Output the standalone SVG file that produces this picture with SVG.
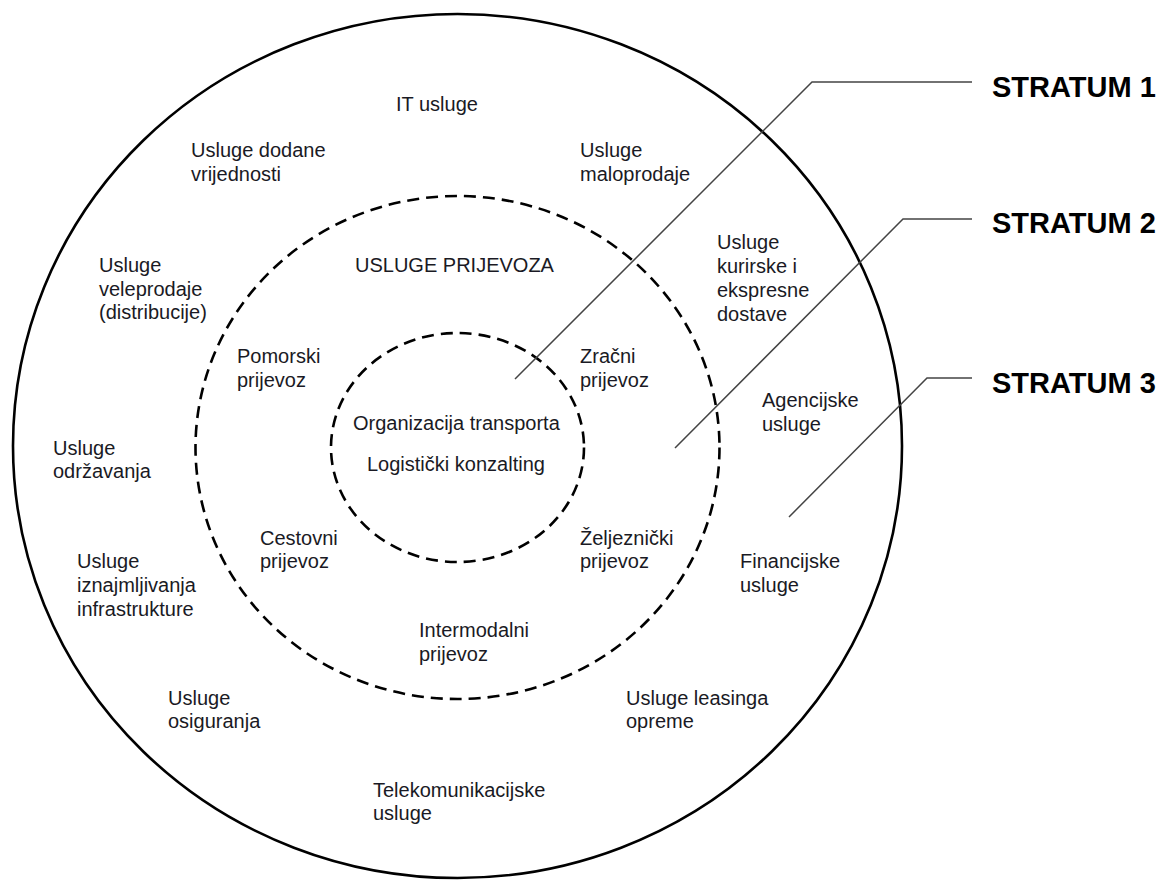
<svg xmlns="http://www.w3.org/2000/svg" width="1169" height="881" viewBox="0 0 1169 881">
<style>
  .t { font-family: "Liberation Sans", Arial, sans-serif; font-size: 20px; fill: #1a1a24; }
  .s { font-family: "Liberation Sans", Arial, sans-serif; font-size: 29px; font-weight: bold; fill: #000; }
  .solid { fill: none; stroke: #000; stroke-width: 2.6; }
  .dash { fill: none; stroke: #000; stroke-width: 2.6; stroke-dasharray: 12 7; }
  .lead { fill: none; stroke: #444; stroke-width: 1.5; }
</style>
<rect width="1169" height="881" fill="#fff"/>
<g id="rings">
  <ellipse id="stratum3-ring" class="solid" cx="457.5" cy="446" rx="444.5" ry="432"/>
  <ellipse id="stratum2-ring" class="dash" cx="457.5" cy="447.5" rx="262" ry="251.5"/>
  <ellipse id="stratum1-ring" class="dash" cx="457.5" cy="447.5" rx="126.5" ry="114.5"/>
</g>
<g id="connectors">
  <polyline class="lead" points="972,82 812,82 515,379"/>
  <polyline class="lead" points="972,219 903,219 675,448"/>
  <polyline class="lead" points="972,378 927,378 789,517"/>
</g>
<g id="stratum-labels">
  <g id="stratum1"><text class="s" x="992" y="97">STRATUM 1</text></g>
  <g id="stratum2"><text class="s" x="992" y="233">STRATUM 2</text></g>
  <g id="stratum3"><text class="s" x="992" y="393">STRATUM 3</text></g>
</g>
<g id="n-it"><text class="t" x="396" y="111">IT usluge</text></g>
<g id="n-dodane"><text class="t" x="191" y="157">Usluge dodane</text><text class="t" x="191" y="181">vrijednosti</text></g>
<g id="n-maloprodaja"><text class="t" x="580" y="157">Usluge</text><text class="t" x="580" y="181">maloprodaje</text></g>
<g id="n-kurirske"><text class="t" x="717" y="249">Usluge</text><text class="t" x="717" y="273">kurirske i</text><text class="t" x="717" y="297">ekspresne</text><text class="t" x="717" y="321">dostave</text></g>
<g id="n-veleprodaja"><text class="t" x="99" y="272">Usluge</text><text class="t" x="99" y="296">veleprodaje</text><text class="t" x="99" y="319">(distribucije)</text></g>
<g id="n-prijevoz"><text class="t" x="355" y="272">USLUGE PRIJEVOZA</text></g>
<g id="n-pomorski"><text class="t" x="237" y="363">Pomorski</text><text class="t" x="237" y="387">prijevoz</text></g>
<g id="n-zracni"><text class="t" x="580" y="363">Zračni</text><text class="t" x="580" y="387">prijevoz</text></g>
<g id="n-organizacija"><text class="t" x="353" y="430">Organizacija transporta</text></g>
<g id="n-konzalting"><text class="t" x="367" y="471">Logistički konzalting</text></g>
<g id="n-agencijske"><text class="t" x="762" y="407">Agencijske</text><text class="t" x="762" y="431">usluge</text></g>
<g id="n-odrzavanje"><text class="t" x="53" y="455">Usluge</text><text class="t" x="53" y="478">održavanja</text></g>
<g id="n-cestovni"><text class="t" x="260" y="545">Cestovni</text><text class="t" x="260" y="568">prijevoz</text></g>
<g id="n-zeljeznicki"><text class="t" x="580" y="545">Željeznički</text><text class="t" x="580" y="568">prijevoz</text></g>
<g id="n-financijske"><text class="t" x="740" y="568">Financijske</text><text class="t" x="740" y="592">usluge</text></g>
<g id="n-iznajmljivanje"><text class="t" x="77" y="568">Usluge</text><text class="t" x="77" y="592">iznajmljivanja</text><text class="t" x="77" y="616">infrastrukture</text></g>
<g id="n-intermodalni"><text class="t" x="419" y="637">Intermodalni</text><text class="t" x="419" y="661">prijevoz</text></g>
<g id="n-leasing"><text class="t" x="626" y="705">Usluge leasinga</text><text class="t" x="626" y="728">opreme</text></g>
<g id="n-osiguranje"><text class="t" x="168" y="705">Usluge</text><text class="t" x="168" y="728">osiguranja</text></g>
<g id="n-telekom"><text class="t" x="373" y="797">Telekomunikacijske</text><text class="t" x="373" y="820">usluge</text></g>
</svg>
